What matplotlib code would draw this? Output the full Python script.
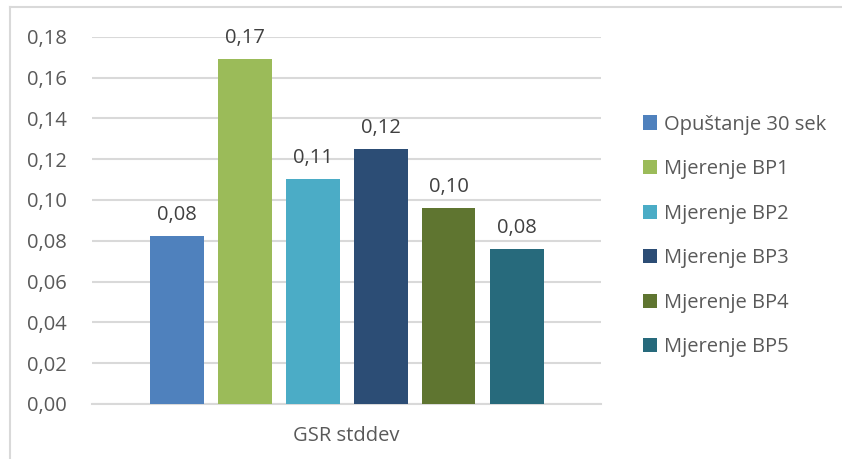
import matplotlib.pyplot as plt
from matplotlib.lines import Line2D

# Podaci
series = ['Opuštanje 30 sek', 'Mjerenje BP1', 'Mjerenje BP2',
          'Mjerenje BP3', 'Mjerenje BP4', 'Mjerenje BP5']
values = [0.0823, 0.1691, 0.1103, 0.1248, 0.0960, 0.0760]
labels = ['0,08', '0,17', '0,11', '0,12', '0,10', '0,08']
category = 'GSR stddev'
yticks = [0.00, 0.02, 0.04, 0.06, 0.08, 0.10, 0.12, 0.14, 0.16, 0.18]

colors = ['#4F81BD', '#9BBB59', '#4BACC6', '#2C4D75', '#5F7530', '#276A7C']
text_color = '#595959'
grid_color = '#D9D9D9'

plt.rcParams['font.family'] = ['Open Sans', 'DejaVu Sans']
fs = 14.5

W, H = 842, 459
fig = plt.figure(figsize=(W / 100, H / 100), dpi=100)

# okvir grafikona (lijevi i gornji rub)
fig.add_artist(Line2D([10 / W, 1], [1 - 7 / H, 1 - 7 / H], color=grid_color, lw=1.5))
fig.add_artist(Line2D([10 / W, 10 / W], [0, 1 - 7 / H], color=grid_color, lw=1.5))

left, right, top, bottom = 92, 601, 36.7, 404
ax = fig.add_axes([left / W, 1 - bottom / H, (right - left) / W, (bottom - top) / H])

step = 68
width = 54 / step
half = (right - left) / step / 2
for i, (s, v, c, lab) in enumerate(zip(series, values, colors, labels)):
    ax.bar(i, v, width=width, color=c, label=s, zorder=3)
    ax.annotate(lab, (i, v), xytext=(0, 8), textcoords='offset points',
                ha='center', va='bottom', fontsize=fs, color='#404040')

ax.set_xlim(2.5 - half, 2.5 + half)
ax.set_ylim(0, 0.18)
ax.set_yticks(yticks)
ax.set_yticklabels([f'{t:.2f}'.replace('.', ',') for t in yticks],
                   fontsize=fs, color=text_color)
ax.set_xticks([2.5])
ax.set_xticklabels([category], fontsize=fs, color=text_color)
ax.tick_params(axis='both', length=0)
ax.tick_params(axis='y', pad=18)
ax.tick_params(axis='x', pad=16)
ax.grid(axis='y', color=grid_color, lw=1.5, zorder=0)
for sp in ['top', 'right', 'left']:
    ax.spines[sp].set_visible(False)
ax.spines['bottom'].set_color(grid_color)
ax.spines['bottom'].set_linewidth(1.5)

ax.legend(loc='center left', bbox_to_anchor=(625 / W, 1 - 236 / H),
          bbox_transform=fig.transFigure, frameon=False, fontsize=fs,
          labelcolor=text_color, handlelength=0.7, handleheight=0.7,
          handletextpad=0.35, labelspacing=1.22)

fig.savefig('out.png', dpi=100)
